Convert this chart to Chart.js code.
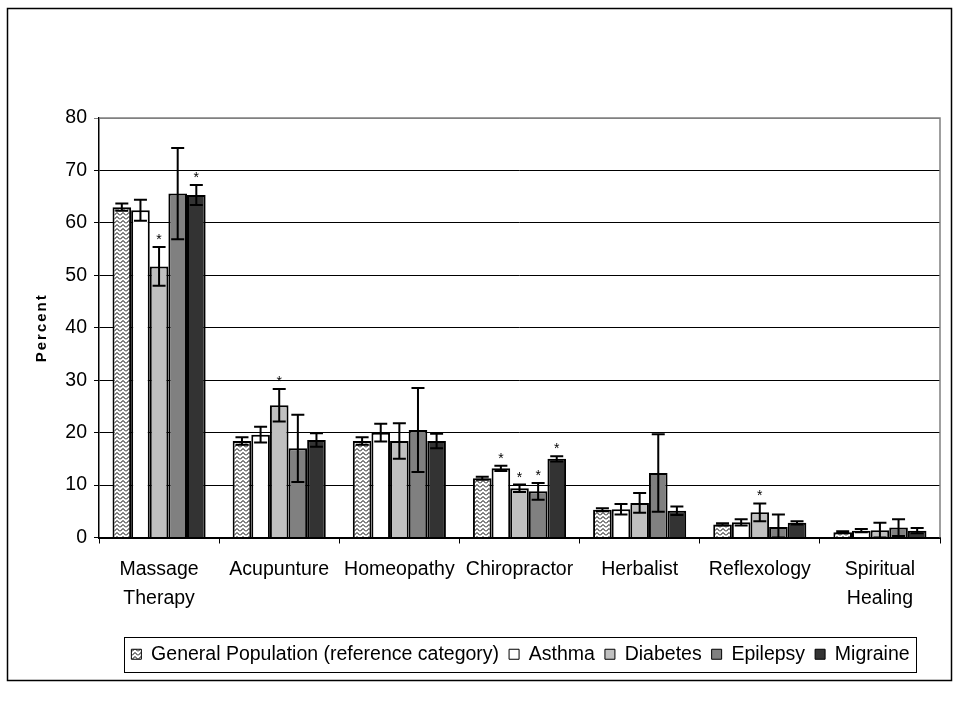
<!DOCTYPE html>
<html lang="en">

<head>
   <meta charset="UTF-8">
   <title>Percent by therapy</title>
   <style>
      body { margin: 0; background: #fff; }
   </style>
</head>

<body>
   <canvas id="myChart" width="960" height="720"></canvas>

   <script src="https://cdn.jsdelivr.net/npm/chart.js"></script>

   <script>
      const categories = [['Massage', 'Therapy'], 'Acupunture', 'Homeopathy', 'Chiropractor', 'Herbalist', 'Reflexology', ['Spiritual', 'Healing']];
      const seriesNames = ['General Population (reference category)', 'Asthma', 'Diabetes', 'Epilepsy', 'Migraine'];

      const generalPop = [63.0, 18.4, 18.4, 11.3, 5.3, 2.5, 1.0];
      const asthma = [62.4, 19.6, 20.0, 13.2, 5.4, 2.9, 1.3];
      const diabetes = [51.7, 25.2, 18.4, 9.4, 6.6, 4.8, 1.4];
      const epilepsy = [65.6, 17.0, 20.5, 8.8, 12.3, 2.0, 1.9];
      const migraine = [65.3, 18.6, 18.4, 15.0, 5.1, 2.8, 1.3];

      // half-width of the error bars
      const generalPopErr = [0.7, 0.7, 0.7, 0.3, 0.3, 0.2, 0.2];
      const asthmaErr = [2.0, 1.5, 1.7, 0.5, 1.0, 0.6, 0.3];
      const diabetesErr = [3.7, 3.1, 3.4, 0.7, 1.9, 1.7, 1.4];
      const epilepsyErr = [8.7, 6.4, 8.0, 1.6, 7.4, 2.4, 1.6];
      const migraineErr = [1.9, 1.3, 1.4, 0.5, 0.8, 0.3, 0.5];

      // significant difference markers (*)
      const generalPopStar = [0, 0, 0, 0, 0, 0, 0];
      const asthmaStar = [0, 0, 0, 1, 0, 0, 0];
      const diabetesStar = [1, 1, 0, 1, 0, 1, 0];
      const epilepsyStar = [0, 0, 0, 1, 0, 0, 0];
      const migraineStar = [1, 0, 0, 1, 0, 0, 0];

      const yTicks = [0, 10, 20, 30, 40, 50, 60, 70, 80];

      const FONT = "'Liberation Sans', Arial, sans-serif";

      // zigzag fill for the reference category
      function zigzag() {
         const c = document.createElement('canvas');
         c.width = 6;
         c.height = 4;
         const g = c.getContext('2d');
         g.fillStyle = '#fff';
         g.fillRect(0, 0, 6, 4);
         g.strokeStyle = '#000';
         g.lineWidth = 1;
         g.beginPath();
         g.moveTo(0, 3.5);
         g.lineTo(3, 0.5);
         g.lineTo(6, 3.5);
         g.stroke();
         return g.createPattern(c, 'repeat');
      }

      const values = [generalPop, asthma, diabetes, epilepsy, migraine];
      const errs = [generalPopErr, asthmaErr, diabetesErr, epilepsyErr, migraineErr];
      const stars = [generalPopStar, asthmaStar, diabetesStar, epilepsyStar, migraineStar];
      const fills = [zigzag(), '#ffffff', '#c0c0c0', '#808080', '#333333'];

      const errorBars = {
         id: 'errorBars',
         afterDatasetsDraw(chart) {
            const ctx = chart.ctx;
            const y = chart.scales.y;
            ctx.save();
            ctx.strokeStyle = '#000';
            ctx.lineWidth = 2;
            ctx.fillStyle = '#000';
            ctx.font = '14px ' + FONT;
            ctx.textAlign = 'center';
            ctx.textBaseline = 'alphabetic';
            chart.data.datasets.forEach((ds, di) => {
               chart.getDatasetMeta(di).data.forEach((bar, i) => {
                  const top = y.getPixelForValue(values[di][i] + errs[di][i]);
                  const bot = y.getPixelForValue(Math.max(0, values[di][i] - errs[di][i]));
                  const x = bar.x;
                  ctx.beginPath();
                  ctx.moveTo(x, top);
                  ctx.lineTo(x, bot);
                  ctx.moveTo(x - 6.5, top);
                  ctx.lineTo(x + 6.5, top);
                  ctx.moveTo(x - 6.5, bot);
                  ctx.lineTo(x + 6.5, bot);
                  ctx.stroke();
                  if (stars[di][i]) {
                     ctx.fillText('*', x, top - 3);
                  }
               });
            });
            ctx.restore();
         }
      };

      const frame = {
         id: 'frame',
         afterLayout(chart) {
            // legend sits a bit right of the plot centre
            chart.legend.left += 36;
            chart.legend.right += 36;
         },
         afterDraw(chart) {
            const ctx = chart.ctx;
            const a = chart.chartArea;
            ctx.save();
            // plot area border (top/right), grey
            ctx.strokeStyle = '#808080';
            ctx.lineWidth = 1.5;
            ctx.beginPath();
            ctx.moveTo(a.left, a.top);
            ctx.lineTo(a.right, a.top);
            ctx.lineTo(a.right, a.bottom);
            ctx.stroke();

            // y axis title with spaced letters
            ctx.fillStyle = '#000';
            ctx.font = 'bold 15px ' + FONT;
            ctx.letterSpacing = '2px';
            ctx.textAlign = 'center';
            ctx.textBaseline = 'middle';
            ctx.translate(42, (a.top + a.bottom) / 2);
            ctx.rotate(-Math.PI / 2);
            ctx.fillText('Percent', 0, 0);
            ctx.restore();

            // legend box
            const lg = chart.legend;
            const pad = lg.options.labels.padding;
            const lw = lg.lineWidths[0];
            const startX = (lg.left + pad + lg.right - lw) / 2;
            ctx.save();
            ctx.strokeStyle = '#000';
            ctx.lineWidth = 1;
            ctx.strokeRect(Math.round(startX - 7) + 0.5, 637.5, Math.round(lw - pad + 14), 35);
            // outer chart border
            ctx.lineWidth = 1.5;
            ctx.strokeRect(7.5, 8.5, 944, 672);
            ctx.restore();
         }
      };

      const ctx = document.getElementById('myChart');

      new Chart(ctx, {
         type: 'bar',
         data: {
            labels: categories,
            datasets: seriesNames.map((name, i) => ({
               label: name,
               data: values[i],
               backgroundColor: fills[i],
               borderColor: '#000',
               borderWidth: 2,
               categoryPercentage: 0.775,
               barPercentage: 1
            }))
         },
         options: {
            responsive: false,
            animation: false,
            layout: {
               padding: { left: 29, top: 118, right: 20, bottom: 46 }
            },
            plugins: {
               tooltip: { enabled: false },
               legend: {
                  position: 'bottom',
                  labels: {
                     color: '#000',
                     font: { family: FONT, size: 19.5 },
                     boxWidth: 10,
                     boxHeight: 10,
                     padding: 10,
                     generateLabels(chart) {
                        return chart.data.datasets.map((ds, i) => ({
                           text: ds.label,
                           fillStyle: fills[i],
                           strokeStyle: '#000',
                           lineWidth: 1,
                           datasetIndex: i,
                           hidden: false
                        }));
                     }
                  }
               }
            },
            scales: {
               x: {
                  afterFit(scale) { scale.height = 97; },
                  grid: {
                     offset: true,
                     drawOnChartArea: false,
                     color: '#000',
                     tickLength: 6,
                     lineWidth: 1
                  },
                  border: { color: '#000', width: 2 },
                  ticks: {
                     color: '#000',
                     maxRotation: 0,
                     autoSkip: false,
                     padding: 11,
                     font: { family: FONT, size: 19.5, lineHeight: 1.5 }
                  }
               },
               y: {
                  min: 0,
                  max: 80,
                  afterFit(scale) { scale.width = 70; },
                  afterBuildTicks(scale) { scale.ticks = yTicks.map(v => ({ value: v })); },
                  grid: {
                     color: (c) => c.tick && c.tick.value === 80 ? '#808080' : '#000',
                     tickLength: 5,
                     lineWidth: 1
                  },
                  border: { color: '#000', width: 1.5 },
                  ticks: {
                     color: '#000',
                     padding: 7,
                     font: { family: FONT, size: 19.5 }
                  }
               }
            }
         },
         plugins: [errorBars, frame]
      });
   </script>
</body>

</html>
